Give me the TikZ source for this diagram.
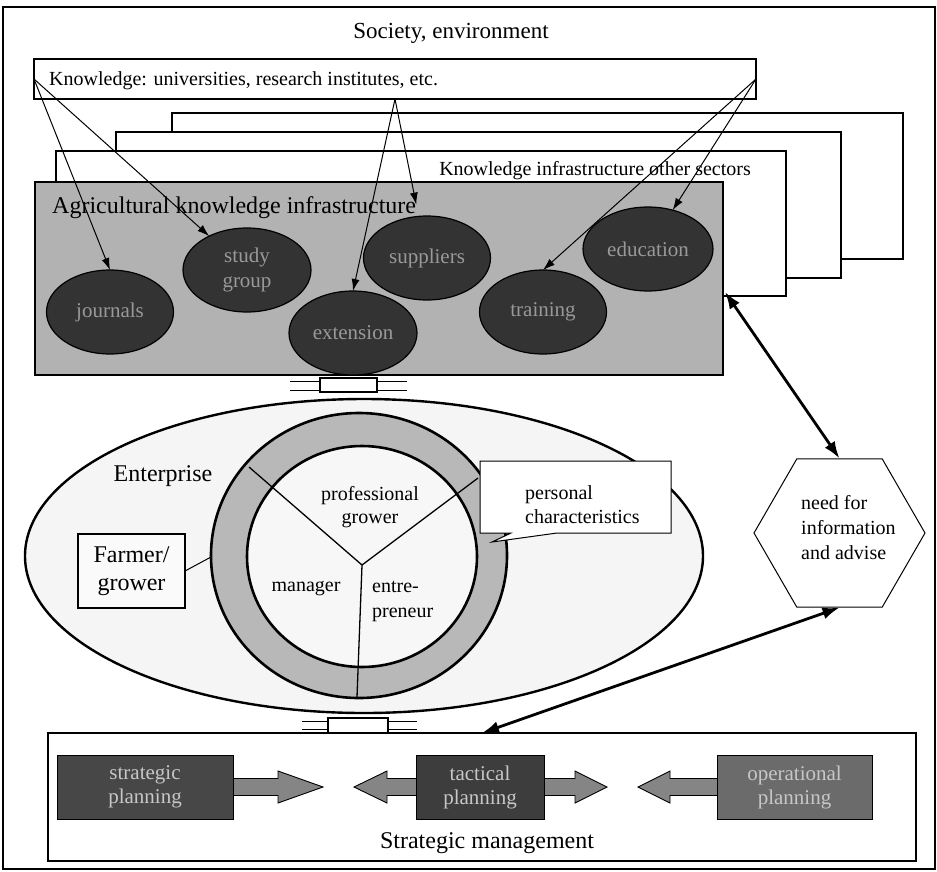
\documentclass[tikz,border=0pt]{standalone}
\usepackage{fontspec}
\setmainfont{Liberation Serif}
\usetikzlibrary{shapes.geometric,arrows.meta}
\begin{document}
\begin{tikzpicture}[x=1pt,y=-1pt,
 wbox/.style={draw, line width=1.1pt, fill=white, inner sep=0pt, outer sep=0pt},
 dkell/.style={ellipse, draw=black, line width=1.2pt, fill=black!80, text=black!40, font=\fontsize{21}{25}\selectfont, inner sep=0pt, outer sep=0pt, minimum width=127pt, minimum height=84pt, align=center},
 kar/.style={-{Latex[length=12pt,width=8pt]}, line width=1pt},
 bigar/.style={{Latex[length=17pt,width=12pt]}-{Latex[length=17pt,width=12pt]}, line width=2.8pt},
 planbox/.style={draw, line width=1pt, inner sep=0pt, minimum height=64pt, text=black!22, align=center, font=\fontsize{21}{24}\selectfont},
 blkar/.style={draw, line width=0.9pt, fill=black!48},
 txt/.style={inner sep=0pt},
 thickline/.style={line width=1.3pt}]
\useasboundingbox (0,0) rectangle (937,871);
\fill[white] (0,0) rectangle (937,871);
% outer frame
\draw[line width=1.3pt] (3,7) rectangle (935,869);
\node[txt, font=\fontsize{23}{26}\selectfont] (soc) at (451,33) {Society, environment};
% knowledge box
\node[wbox, minimum width=722pt, minimum height=40pt] (know) at (395,79) {};
\node[txt, anchor=west, font=\fontsize{20}{22}\selectfont] (ktxt) at (49,81) {Knowledge: universities, research institutes, etc.};
% stacked boxes
\node[wbox, minimum width=731pt, minimum height=146pt] (b3) at (537.5,186) {};
\node[wbox, minimum width=725pt, minimum height=146pt] (b2) at (478.5,205) {};
\node[wbox, minimum width=730pt, minimum height=145pt] (b1) at (421,223.5) {};
\node[txt, anchor=east, font=\fontsize{20}{22}\selectfont] (oth) at (751,171) {Knowledge infrastructure other sectors};
% agricultural box
\node[wbox, fill=black!30, minimum width=688pt, minimum height=193pt] (agri) at (379,278.5) {};
\node[txt, anchor=west, font=\fontsize{24}{26}\selectfont] (agt) at (52,208) {Agricultural knowledge infrastructure};
% ellipses
\node[dkell] (journals) at (110,312) {journals};
\node[dkell, minimum width=128pt] (study) at (247,270) {study\\group};
\node[dkell] (suppliers) at (427,258) {suppliers};
\node[dkell] (training) at (543,312) {training};
\node[dkell, minimum width=130pt] (education) at (648,249) {education};
\node[dkell, minimum width=128pt] (extension) at (353,333) {extension};
% knowledge arrows
\draw[kar] (know.west) -- (journals.north);
\draw[kar] (know.west) -- (study);
\draw[kar, shorten >=12pt] (know.south) -- (suppliers);
\draw[kar] (know.south) -- (extension.north);
\draw[kar] (know.east) -- (training.north);
\draw[kar] (know.east) -- (education);
% top spring
\draw[line width=0.9pt] (290,381) -- (407,381) (290,390) -- (407,390);
\node[wbox, minimum width=57pt, minimum height=14pt] (sp1) at (348.5,385) {};
% enterprise
\node[ellipse, draw, line width=2.4pt, fill=black!4, minimum width=678pt, minimum height=314pt, inner sep=0pt] (ent) at (364,556) {};
\node[txt, font=\fontsize{24}{26}\selectfont] (entt) at (163,476) {Enterprise};
\node[wbox, minimum width=107pt, minimum height=74pt, align=center, font=\fontsize{24}{28}\selectfont, fill=black!2] (farmer) at (131.5,571) {Farmer/\\grower};
\coordinate (fr) at (211,557);
\draw[line width=1pt] (farmer.east) -- (fr);
% ring
\node[ellipse, draw, line width=2.6pt, fill=black!28, minimum width=296pt, minimum height=285pt, inner sep=0pt] (ring) at (359,555.5) {};
\node[ellipse, draw, line width=2.6pt, fill=black!3, minimum width=230pt, minimum height=221pt, inner sep=0pt] (core) at (362,556.5) {};
\coordinate (yc) at (362,565);
\coordinate (ya) at (249,467);
\coordinate (yb) at (478,478);
\coordinate (yd) at (357,697);
\draw[thickline] (yc) -- (ya) (yc) -- (yb) (yc) -- (yd);
\node[txt, align=center, font=\fontsize{20}{23}\selectfont] (prof) at (370,507) {professional\\grower};
\node[txt, font=\fontsize{20}{23}\selectfont] (man) at (306,589) {manager};
\node[txt, anchor=west, align=left, font=\fontsize{20}{25}\selectfont] (entre) at (372,601) {entre-\\preneur};
% personal characteristics callout
\draw[line width=1pt, fill=white] (480,461) -- (671,461) -- (671,533) -- (557,533) -- (492,542) -- (511,533) -- (480,533) -- cycle;
\node[txt, anchor=west, align=left, font=\fontsize{20}{24}\selectfont] (pc) at (525,505) {personal\\characteristics};
% hexagon
\node[regular polygon, regular polygon sides=6, minimum size=171pt, draw, line width=1pt, inner sep=0pt, fill=white] (hex) at (839.5,533) {};
\node[txt, anchor=west, align=left, font=\fontsize{20}{25}\selectfont] (hext) at (801,528) {need for\\information\\and advise};
% bottom spring
\draw[line width=0.9pt] (302,721) -- (417,721) (302,729) -- (417,729);
\node[wbox, minimum width=60pt, minimum height=15pt] (sp2) at (358,725.5) {};
% strategic management box
\node[wbox, line width=1.2pt, minimum width=868pt, minimum height=128pt] (sm) at (482,797) {};
\node[txt, font=\fontsize{24}{26}\selectfont] (smt) at (487,843) {Strategic management};
% block arrows
\draw[blkar] (230,778.5) -- (278,778.5) -- (278,771) -- (323,787) -- (278,803) -- (278,795.5) -- (230,795.5) -- cycle;
\draw[blkar] (419,778.5) -- (387,778.5) -- (387,771) -- (354,787) -- (387,803) -- (387,795.5) -- (419,795.5) -- cycle;
\draw[blkar] (541,778.5) -- (575,778.5) -- (575,771) -- (607,787) -- (575,803) -- (575,795.5) -- (541,795.5) -- cycle;
\draw[blkar] (720,778.5) -- (670,778.5) -- (670,771) -- (638,787) -- (670,803) -- (670,795.5) -- (720,795.5) -- cycle;
\node[planbox, fill=black!72, minimum width=176pt] (strat) at (145,787) {strategic\\planning};
\node[planbox, fill=black!76, minimum width=128pt] (tact) at (480,787) {tactical\\planning};
\node[planbox, fill=black!58, minimum width=155pt] (oper) at (794.5,787) {operational\\planning};
% double arrows
\coordinate (agr) at (725,292);
\draw[bigar] (agr) -- (hex.north);
\draw[bigar] (hex.south) -- (sm.north);
\end{tikzpicture}
\end{document}
